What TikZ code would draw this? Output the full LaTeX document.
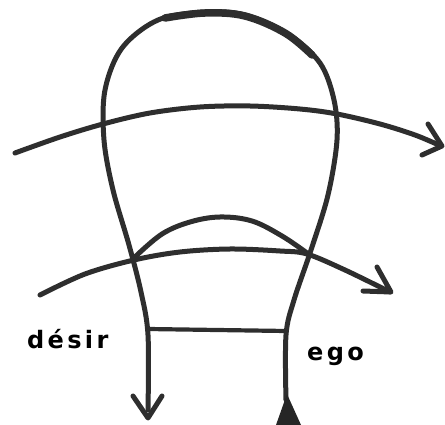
\documentclass[tikz,border=0pt]{standalone}
\usepackage{fontspec}
\newfontfamily\hand[LetterSpace=14]{DejaVu Sans}
\begin{document}
\begin{tikzpicture}[x=1pt,y=-1pt,
  ink/.style={draw=black!82,line width=5pt,line cap=round,line join=round},
  lbl/.style={text=black,font=\hand\bfseries\fontsize{24}{26}\selectfont,inner sep=0pt}]
\useasboundingbox (0,0) rectangle (445,425);
% outline (head and two stems)
\draw[ink] plot[smooth,tension=0.55] coordinates{
 (148,410) (148,335) (141,292) (129,245) (113,190) (104,140) (105,90) (122,48) (158,20) (205,12) (245,15) (288,34) (320,63) (334,100) (337,140) (328,195) (311,250) (294,300) (286,335) (286,400)};
% thick top
\draw[ink,line width=7.5pt] plot[smooth,tension=0.6] coordinates{(165,18) (205,13) (245,16) (285,33) (312,55)};
% left arrow head
\coordinate (lt) at (148,418);
\draw[ink] (133,396) -- (lt) -- (162,396);
% right filled triangle
\fill[black!85] (287,394) -- (301,425) -- (276,425) -- cycle;
% bar
\draw[ink,line width=4.2pt] (148,329) -- (286,331);
% upper arrow
\draw[ink] plot[smooth,tension=0.55] coordinates{
 (15,153) (60,137) (103,124) (150,113) (200,107) (250,106) (300,109) (337,114) (380,124) (415,135) (441,146)};
\coordinate (ut) at (442,146);
\draw[ink] (428,124) -- (ut) -- (422,155);
% lower arrow
\draw[ink] plot[smooth,tension=0.55] coordinates{
 (40,295) (85,274) (134,260) (180,252) (230,249) (280,251) (307,254) (345,270) (390,292)};
\coordinate (lo) at (391,292);
\draw[ink] (377,267) -- (lo) -- (363,291);
% dome
\draw[ink] plot[smooth,tension=0.6] coordinates{
 (136,256) (162,234) (190,222) (220,217) (252,221) (282,236) (307,253)};
% labels
\node[lbl,anchor=base west] (desir) at (27,348) {désir};
\node[lbl,anchor=base west] (ego) at (307,360) {ego};
\end{tikzpicture}
\end{document}
